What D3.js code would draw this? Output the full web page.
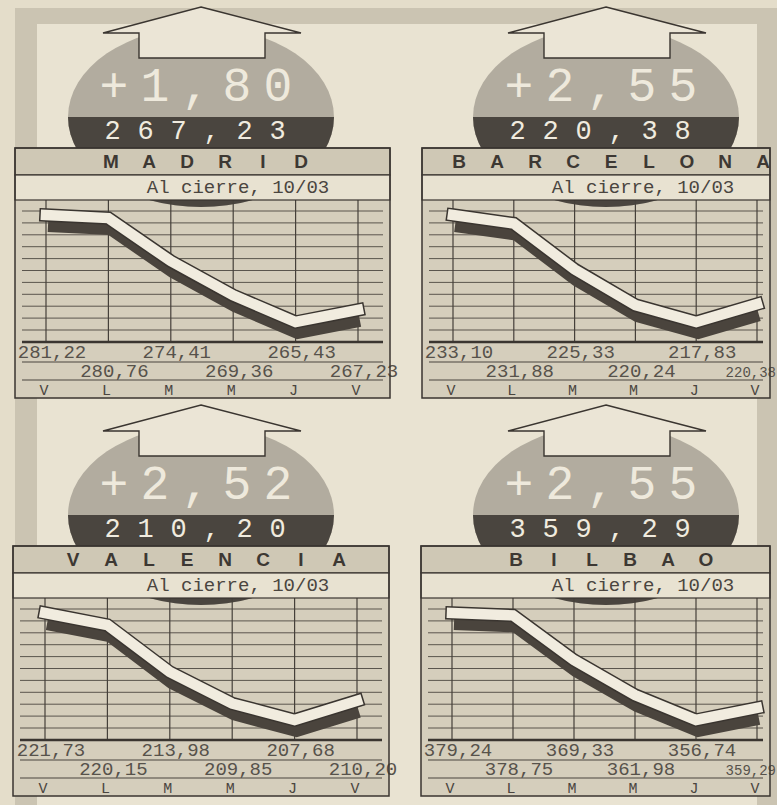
<!DOCTYPE html>
<html>
<head>
<meta charset="utf-8">
<script src="https://cdn.jsdelivr.net/npm/d3@7"></script>
<style>
  body { margin: 0; background: #e4ddca; }
  svg { display: block; }
</style>
</head>
<body>
<script>
const width = 777
const height = 805

// data
const cities = ["MADRID", "BARCELONA", "VALENCIA", "BILBAO"]
const days = ["V", "L", "M", "M", "J", "V"]
const subtitle = "Al cierre, 10/03"
const madrid = [281.22, 280.76, 274.41, 269.36, 265.43, 267.23]
const barcelona = [233.10, 231.88, 225.33, 220.24, 217.83, 220.38]
const valencia = [221.73, 220.15, 213.98, 209.85, 207.68, 210.20]
const bilbao = [379.24, 378.75, 369.33, 361.98, 356.74, 359.29]

const ink = '#3a3530'
const mono = "'Liberation Mono', 'Courier New', monospace"
const sans = "'Liberation Sans', Arial, sans-serif"

const fmt = v => v.toFixed(2).replace('.', ',')

const svg = d3.select('body').append('svg')
    .attr('width', width)
    .attr('height', height)
    .attr('viewBox', [0, 0, width, height])

// paper + grey frame
svg.append('rect').attr('width', width).attr('height', height).attr('fill', '#e4ddca')
svg.append('rect').attr('x', 15).attr('y', 8).attr('width', 762).attr('height', 797).attr('fill', '#cbc4b2')
svg.append('rect').attr('x', 37).attr('y', 24).attr('width', 720).attr('height', 781).attr('fill', '#e9e3d2')

const panels = [
    {name: cities[0], values: madrid, left: 15, right: 390, top: 0, cx: 201, grid: [46, 358]},
    {name: cities[1], values: barcelona, left: 422, right: 770, top: 0, cx: 606, grid: [453, 757]},
    {name: cities[2], values: valencia, left: 13, right: 389, top: 398, cx: 201, grid: [45, 357]},
    {name: cities[3], values: bilbao, left: 421, right: 770, top: 398, cx: 606, grid: [452, 757]}
]

panels.forEach((p, k) => {
    const g = svg.append('g').attr('transform', `translate(0, ${p.top})`)
    const w = p.right - p.left
    const edge = p.right > 700  // right column runs into the page edge

    const x = d3.scalePoint()
        .domain(d3.range(days.length))
        .range(p.grid)
    const y = d3.scaleLinear()
        .domain(d3.extent(p.values))
        .range([322, 215])

    // chart + label rows background
    g.append('rect')
        .attr('x', p.left).attr('y', 200)
        .attr('width', w).attr('height', 198)
        .attr('fill', '#d5cebc')

    // two tone ellipse
    const clipId = 'low' + k
    g.append('clipPath').attr('id', clipId)
        .append('rect').attr('x', p.cx - 140).attr('y', 117).attr('width', 280).attr('height', 100)
    g.append('ellipse')
        .attr('cx', p.cx).attr('cy', 117).attr('rx', 133).attr('ry', 90)
        .attr('fill', '#b2ac9f')
    g.append('ellipse')
        .attr('cx', p.cx).attr('cy', 117).attr('rx', 133).attr('ry', 90)
        .attr('fill', '#4a453f')
        .attr('clip-path', `url(#${clipId})`)

    // grid
    g.append('g')
        .selectAll('line')
        .data(d3.range(11))
        .join('line')
        .attr('x1', p.left + 7).attr('x2', p.right - 7)
        .attr('y1', i => 211 + i * 11.9).attr('y2', i => 211 + i * 11.9)
        .attr('stroke', '#5a554d').attr('stroke-width', 1)
    g.append('g')
        .selectAll('line')
        .data(d3.range(days.length))
        .join('line')
        .attr('x1', i => x(i)).attr('x2', i => x(i))
        .attr('y1', 200).attr('y2', 342)
        .attr('stroke', '#45403a').attr('stroke-width', 1.2)

    // title bar and subtitle band
    g.append('rect')
        .attr('x', p.left).attr('y', 148).attr('width', w).attr('height', 27)
        .attr('fill', '#cfc8b5').attr('stroke', ink).attr('stroke-width', 1.3)
    g.append('rect')
        .attr('x', p.left).attr('y', 175).attr('width', w).attr('height', 25)
        .attr('fill', '#e8e2d1').attr('stroke', ink).attr('stroke-width', 1.2)

    // up arrow
    const ax = p.cx
    g.append('path')
        .attr('d', `M${ax},7 L${ax + 100},33 L${ax + 64},33 L${ax + 64},58 L${ax - 62},58 L${ax - 62},33 L${ax - 98},33 Z`)
        .attr('fill', '#ebe5d6').attr('stroke', ink).attr('stroke-width', 1.4)

    // change and close inside ellipse
    const n = p.values.length
    const change = '+' + fmt(p.values[n - 1] - p.values[n - 2])
    const close = fmt(p.values[n - 1])
    g.append('g').selectAll('text')
        .data(change.split(''))
        .join('text')
        .attr('x', (c, i) => p.cx - 5 + (i - (change.length - 1) / 2) * 41)
        .attr('y', 101)
        .attr('text-anchor', 'middle')
        .attr('font-family', mono).attr('font-size', 48)
        .attr('fill', '#eee9dc')
        .text(c => c)
    g.append('g').selectAll('text')
        .data(close.split(''))
        .join('text')
        .attr('x', (c, i) => p.cx - 6 + (i - (close.length - 1) / 2) * 33)
        .attr('y', 139)
        .attr('text-anchor', 'middle')
        .attr('font-family', mono).attr('font-size', 27)
        .attr('fill', '#f0ebdf')
        .text(c => c)

    // city name
    g.append('g').selectAll('text')
        .data(p.name.split(''))
        .join('text')
        .attr('x', (c, i) => p.cx + 5 + (i - (p.name.length - 1) / 2) * 38)
        .attr('y', 168)
        .attr('text-anchor', 'middle')
        .attr('font-family', sans).attr('font-weight', 'bold').attr('font-size', 19)
        .attr('fill', '#3d3833')
        .text(c => c)

    g.append('text')
        .attr('x', p.cx + 37).attr('y', 193)
        .attr('text-anchor', 'middle')
        .attr('font-family', mono).attr('font-size', 19)
        .attr('fill', '#4a453f')
        .text(subtitle)

    // ribbon line: shadow, outline, face
    const line = d3.line()
        .x((d, i) => x(i))
        .y(d => y(d))
    g.append('path')
        .datum(p.values)
        .attr('d', line)
        .attr('transform', 'translate(2,11)')
        .attr('fill', 'none').attr('stroke', '#4a443d').attr('stroke-width', 12)
        .attr('stroke-linejoin', 'miter')
    g.append('path')
        .datum(p.values)
        .attr('d', line)
        .attr('fill', 'none').attr('stroke', ink).attr('stroke-width', 13.5)
        .attr('stroke-linejoin', 'miter').attr('stroke-linecap', 'square')
    g.append('path')
        .datum(p.values)
        .attr('d', line)
        .attr('fill', 'none').attr('stroke', '#f1ecdf').attr('stroke-width', 10.5)
        .attr('stroke-linejoin', 'miter').attr('stroke-linecap', 'square')

    // baseline and row separators
    g.append('line')
        .attr('x1', p.left + 7).attr('x2', p.right - 7).attr('y1', 342).attr('y2', 342)
        .attr('stroke', ink).attr('stroke-width', 2.5)
    g.selectAll('line.sep')
        .data([362, 380])
        .join('line')
        .attr('class', 'sep')
        .attr('x1', p.left + 7).attr('x2', p.right - 7)
        .attr('y1', d => d).attr('y2', d => d)
        .attr('stroke', '#4a453f').attr('stroke-width', 1.2)

    // values under each day, alternating rows; last one squeezed at the page edge on the right
    g.append('g').selectAll('text')
        .data(p.values)
        .join('text')
        .attr('x', (d, i) => edge && i === n - 1 ? 776 : x(i) + 6)
        .attr('y', (d, i) => i % 2 === 0 ? 358 : 377)
        .attr('text-anchor', (d, i) => edge && i === n - 1 ? 'end' : 'middle')
        .attr('font-family', mono)
        .attr('font-size', (d, i) => edge && i === n - 1 ? 14 : 19)
        .attr('fill', '#57524b')
        .text(d => fmt(d))

    g.append('g').selectAll('text')
        .data(days)
        .join('text')
        .attr('x', (d, i) => x(i) - 2)
        .attr('y', 395)
        .attr('text-anchor', 'middle')
        .attr('font-family', mono).attr('font-size', 15)
        .attr('fill', '#4a453f')
        .text(d => d)

    // outer border of panel
    g.append('rect')
        .attr('x', p.left).attr('y', 148).attr('width', w).attr('height', 250)
        .attr('fill', 'none').attr('stroke', ink).attr('stroke-width', 1.5)
})
</script>
</body>
</html>
